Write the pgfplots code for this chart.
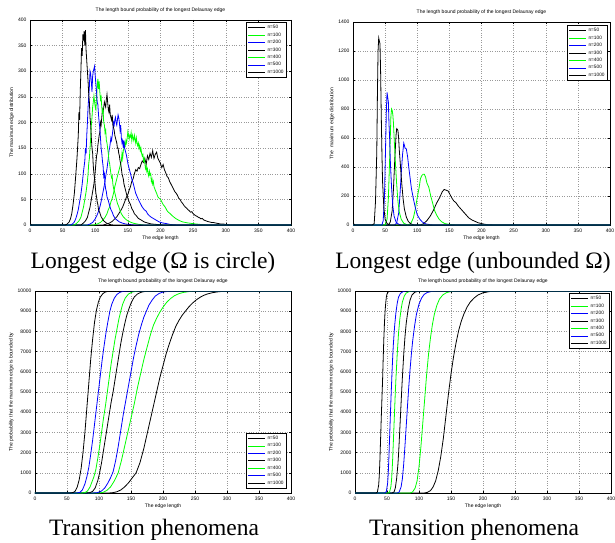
\documentclass[border=0pt]{standalone}
\usepackage{pgfplots}
\pgfplotsset{compat=1.18}
\usepackage{fontspec}
\setmainfont{Liberation Sans}
\newfontfamily\capfont{Liberation Serif}
\pgfplotsset{
  bk/.style={black, line width=0.8pt, mark=none},
  gr/.style={green, line width=0.8pt, mark=none},
  bl/.style={blue, line width=0.8pt, mark=none},
  mat/.style={
    scale only axis, anchor=south west,
    xmin=0, xmax=400, xtick={0,50,...,400},
    scaled y ticks=false, scaled x ticks=false,
    tick align=inside, major tick length=2pt,
    grid=major, major grid style={dotted, gray!80, line width=0.45pt},
    axis line style={line width=0.5pt},
    every tick/.style={black, line width=0.4pt},
    tick label style={font=\fontsize{5}{6}\selectfont},
    /pgf/number format/assume math mode=true,
    /pgf/number format/1000 sep={},
    label style={font=\fontsize{5}{6}\selectfont},
    title style={font=\fontsize{5}{6}\selectfont, yshift=-2pt},
    title={The length bound probability of the longest Delaunay edge},
    xlabel={The edge length},
    xlabel style={yshift=3pt},
    ylabel style={yshift=-3pt},
    legend style={font=\fontsize{4.8}{5.5}\selectfont, draw=black, line width=1.1pt,
      inner sep=0.8pt, row sep=-1.4pt, legend cell align=left},
    legend image post style={line width=0.8pt},
  },
}
\begin{document}
\begin{tikzpicture}
\useasboundingbox (0,0) rectangle (615pt,542pt);
% ---------------- Plot 1 ----------------
\begin{axis}[mat, at={(30pt,317pt)}, width=261pt, height=205pt,
  ymin=0, ymax=400, ytick={0,50,...,400},
  ylabel={The maximum edge distribution},
  legend style={at={(1,1)}, anchor=north east, xshift=-4pt, yshift=-2pt}]
\addplot[bk] coordinates {(0,4)(2,0)(112,0)(118,2)(122,4)(126,7)(130,12)(133,16)(136,22)(139,28)(142,35)(145,45)(148,55)(150,60)(152,68)(154,75)(156,85)(158,90)(160,100)(162,108)(164,105)(166,112)(168,110)(170,118)(172,125)(174,122)(176,130)(178,118)(180,135)(182,128)(184,140)(186,132)(188,145)(190,130)(192,138)(194,142)(196,130)(198,125)(200,120)(202,112)(204,118)(206,108)(208,102)(210,95)(212,92)(214,85)(216,80)(218,75)(220,70)(222,65)(224,62)(226,58)(228,52)(230,50)(232,45)(234,42)(236,38)(238,35)(240,33)(242,30)(244,28)(246,25)(248,26)(250,22)(252,20)(254,18)(256,17)(258,15)(260,14)(262,12)(264,13)(266,10)(268,9)(270,8)(272,7)(275,6)(278,5)(281,5)(284,4)(288,3)(292,2)(296,2)(300,1)(306,0)(400,0)};
\addlegendentry{n=50}
\addplot[gr] coordinates {(0,0)(98,0)(103,2)(108,5)(112,10)(115,15)(118,22)(120,30)(122,35)(124,45)(126,52)(128,62)(130,75)(132,85)(134,95)(136,105)(138,115)(140,125)(141,140)(142,130)(143,145)(144,150)(145,160)(146,155)(147,165)(148,160)(149,170)(150,182)(151,175)(152,168)(153,175)(154,172)(155,180)(156,165)(157,175)(158,170)(159,165)(160,175)(161,168)(162,160)(163,170)(164,160)(165,155)(166,160)(167,150)(168,155)(169,145)(170,150)(171,140)(172,135)(173,138)(174,125)(175,130)(176,120)(177,110)(178,115)(179,105)(180,110)(181,100)(182,95)(183,105)(184,98)(185,100)(186,85)(187,90)(188,80)(189,85)(190,75)(192,68)(194,62)(196,55)(198,52)(200,50)(202,45)(204,40)(206,37)(208,33)(210,28)(212,25)(215,22)(218,18)(221,15)(224,12)(227,10)(230,8)(234,6)(238,5)(242,4)(248,3)(254,2)(262,1)(270,0)(400,0)};
\addlegendentry{n=100}
\addplot[bl] coordinates {(0,0)(88,0)(92,2)(96,5)(100,12)(103,20)(106,30)(108,40)(110,52)(112,65)(114,78)(116,95)(118,110)(119,120)(120,130)(121,145)(122,150)(123,160)(124,170)(125,165)(126,175)(127,185)(128,200)(129,195)(130,205)(131,210)(132,200)(133,195)(134,205)(135,215)(136,210)(137,200)(138,185)(139,195)(140,170)(141,160)(142,165)(143,150)(144,165)(145,150)(146,145)(147,140)(148,135)(150,120)(152,110)(154,100)(156,90)(158,82)(160,72)(162,62)(164,56)(166,50)(168,45)(170,40)(172,35)(175,30)(178,27)(180,22)(183,18)(186,15)(190,12)(194,9)(198,6)(203,4)(208,3)(215,1)(225,0)(400,0)};
\addlegendentry{n=200}
\addplot[bk] coordinates {(0,0)(78,0)(82,4)(85,8)(88,15)(90,25)(92,35)(94,50)(96,65)(98,80)(100,105)(101,120)(102,135)(103,140)(104,155)(105,165)(106,175)(107,180)(108,200)(109,195)(110,210)(111,225)(112,220)(113,230)(114,240)(115,235)(116,230)(117,245)(118,255)(119,240)(120,225)(121,220)(122,235)(123,215)(124,210)(125,205)(126,215)(127,195)(128,190)(129,185)(130,175)(131,170)(132,165)(133,160)(134,150)(135,150)(136,140)(137,135)(138,125)(139,120)(140,110)(141,100)(142,95)(143,90)(144,80)(145,75)(146,70)(148,60)(150,52)(152,45)(154,40)(156,32)(158,28)(160,22)(163,18)(166,13)(170,10)(175,6)(180,4)(186,2)(195,1)(205,0)(400,0)};
\addlegendentry{n=300}
\addplot[gr] coordinates {(0,0)(68,0)(72,4)(75,8)(78,15)(80,25)(82,35)(84,50)(86,65)(88,85)(89,100)(90,120)(91,130)(92,150)(93,170)(94,195)(95,210)(96,230)(97,240)(98,252)(99,240)(100,230)(101,225)(102,250)(103,270)(104,285)(105,265)(106,280)(107,260)(108,245)(109,250)(110,230)(111,220)(112,225)(113,200)(114,195)(115,180)(116,185)(117,165)(118,160)(119,150)(120,140)(121,125)(122,120)(123,110)(124,100)(125,92)(126,95)(127,80)(128,72)(130,63)(132,52)(134,42)(136,36)(138,28)(140,22)(143,16)(146,12)(150,8)(155,5)(160,3)(168,1)(175,0)(400,0)};
\addlegendentry{n=400}
\addplot[bl] coordinates {(0,0)(62,0)(65,2)(68,6)(70,12)(72,20)(74,30)(76,45)(78,60)(80,80)(82,105)(84,125)(85,150)(86,140)(87,175)(88,200)(89,230)(90,250)(91,270)(92,300)(93,295)(94,280)(95,260)(96,290)(97,300)(98,305)(99,310)(100,290)(101,275)(102,260)(103,240)(104,235)(105,215)(106,200)(107,190)(108,170)(109,150)(110,140)(111,125)(112,115)(113,95)(114,100)(115,80)(116,70)(117,65)(118,55)(120,48)(122,38)(124,30)(126,25)(128,18)(131,12)(134,9)(137,6)(141,4)(146,2)(152,1)(160,0)(400,0)};
\addlegendentry{n=500}
\addplot[bk] coordinates {(0,4)(2,0)(54,0)(57,2)(60,6)(62,12)(64,22)(66,40)(68,62)(70,95)(72,130)(74,175)(75,220)(76,205)(77,260)(78,300)(79,345)(80,330)(81,372)(82,360)(83,378)(84,350)(85,380)(86,340)(87,320)(88,300)(89,280)(90,255)(91,240)(92,210)(93,195)(94,170)(95,150)(96,140)(97,115)(98,100)(99,90)(100,75)(101,62)(102,55)(103,45)(104,40)(105,30)(107,24)(109,16)(111,12)(113,8)(115,6)(118,3)(122,1)(128,0)(400,0)};
\addlegendentry{n=1000}
\end{axis}
% ---------------- Plot 2 ----------------
\begin{axis}[mat, at={(353pt,317pt)}, width=257pt, height=203pt,
  ymin=0, ymax=1400, ytick={0,200,...,1400},
  ylabel={The\ \ maximum edge distribution},
  legend style={at={(1,1)}, anchor=north east, xshift=-2pt, yshift=-3pt}]
\addplot[bk] coordinates {(0,0)(105,0)(110,10)(115,30)(120,60)(125,100)(130,150)(135,190)(139,230)(142,245)(145,240)(148,235)(151,210)(154,185)(157,165)(160,155)(164,130)(168,110)(172,90)(176,70)(180,50)(185,35)(190,25)(195,15)(200,10)(205,5)(210,2)(220,0)(400,0)};
\addlegendentry{n=50}
\addplot[gr] coordinates {(0,0)(85,0)(90,10)(94,50)(97,110)(100,190)(103,260)(105,320)(107,340)(109,350)(111,350)(113,330)(115,290)(118,260)(121,200)(124,150)(127,100)(130,70)(134,40)(138,22)(143,10)(150,4)(160,0)(400,0)};
\addlegendentry{n=100}
\addplot[bl] coordinates {(0,0)(65,0)(68,15)(71,80)(73,200)(75,350)(77,480)(79,565)(80,550)(81,530)(83,525)(85,470)(87,390)(89,320)(91,250)(94,180)(97,120)(100,70)(104,40)(108,20)(113,8)(120,2)(125,0)(400,0)};
\addlegendentry{n=200}
\addplot[bk] coordinates {(0,0)(55,0)(58,20)(61,100)(63,250)(65,450)(67,620)(68,665)(69,660)(70,650)(71,600)(72,520)(74,400)(76,280)(78,180)(80,110)(83,55)(86,25)(90,8)(95,0)(400,0)};
\addlegendentry{n=300}
\addplot[gr] coordinates {(0,0)(50,0)(53,40)(55,180)(57,450)(58,600)(59,750)(60,800)(61,790)(62,760)(63,700)(64,600)(66,430)(68,280)(70,160)(72,90)(75,40)(79,12)(85,0)(400,0)};
\addlegendentry{n=400}
\addplot[bl] coordinates {(0,0)(45,0)(47,30)(49,200)(51,600)(52,800)(53,915)(54,880)(55,850)(56,700)(57,600)(58,450)(60,260)(62,130)(64,60)(67,20)(71,5)(75,0)(400,0)};
\addlegendentry{n=500}
\addplot[bk] coordinates {(0,20)(2,0)(30,0)(33,10)(35,160)(37,500)(38,900)(39,1200)(40,1290)(41,1270)(42,1250)(43,1050)(44,750)(45,500)(46,300)(48,120)(50,40)(53,10)(57,0)(400,0)};
\addlegendentry{n=1000}
\end{axis}
% ---------------- Plot 3 ----------------
\begin{axis}[mat, at={(35pt,49pt)}, width=256pt, height=202pt,
  ymin=0, ymax=10000, ytick={0,1000,...,10000},
  ylabel={The probability that the maximum edge is bounded by},
  legend style={at={(1,0)}, anchor=south east, xshift=-4pt, yshift=4pt}]
\addplot[bk] coordinates {(0,0)(115,0)(122,20)(128,60)(134,150)(140,300)(146,500)(152,750)(158,1000)(164,1500)(170,2200)(175,2900)(180,3600)(185,4300)(190,5000)(195,5700)(200,6300)(205,6900)(210,7400)(215,7850)(220,8250)(225,8550)(230,8800)(235,9000)(240,9200)(246,9400)(252,9560)(258,9690)(264,9790)(270,9860)(278,9920)(286,9960)(295,9985)(305,10000)(400,10000)};
\addlegendentry{n=50}
\addplot[gr] coordinates {(0,0)(100,0)(106,30)(112,120)(118,300)(124,600)(130,1000)(135,1600)(140,2300)(145,3000)(150,3700)(155,4400)(160,5200)(165,5900)(170,6600)(175,7200)(180,7800)(185,8300)(190,8650)(195,8950)(200,9200)(206,9450)(212,9630)(218,9770)(225,9870)(232,9930)(240,9970)(248,9990)(258,10000)(400,10000)};
\addlegendentry{n=100}
\addplot[bl] coordinates {(0,0)(90,0)(98,20)(104,100)(109,250)(114,500)(118,750)(122,1050)(126,1600)(130,2300)(134,3100)(138,3900)(142,4600)(146,5300)(150,6000)(154,6700)(158,7300)(162,7850)(166,8300)(170,8700)(174,9000)(178,9300)(183,9550)(188,9750)(194,9880)(200,9950)(210,9990)(220,10000)(400,10000)};
\addlegendentry{n=200}
\addplot[bk] coordinates {(0,0)(80,0)(86,20)(90,80)(94,250)(98,600)(101,1000)(104,1500)(107,2100)(110,2700)(113,3300)(116,3900)(119,4500)(122,5000)(125,5600)(128,6200)(131,6800)(134,7400)(137,7900)(140,8350)(143,8750)(146,9050)(150,9400)(155,9700)(160,9850)(166,9940)(173,9985)(180,10000)(400,10000)};
\addlegendentry{n=300}
\addplot[gr] coordinates {(0,0)(72,0)(78,20)(82,100)(86,300)(89,550)(92,800)(95,1150)(98,1700)(101,2300)(104,3000)(107,3700)(110,4300)(113,5000)(116,5700)(119,6400)(122,7000)(125,7600)(128,8100)(131,8600)(134,9000)(137,9350)(141,9650)(146,9850)(152,9950)(160,9995)(165,10000)(400,10000)};
\addlegendentry{n=400}
\addplot[bl] coordinates {(0,0)(65,0)(70,30)(74,150)(78,450)(81,800)(84,1250)(87,1900)(90,2600)(93,3400)(96,4200)(99,5000)(102,5800)(105,6600)(108,7300)(111,7950)(114,8500)(117,9000)(120,9350)(124,9650)(128,9830)(133,9940)(138,9985)(145,10000)(400,10000)};
\addlegendentry{n=500}
\addplot[bk] coordinates {(0,0)(55,0)(60,30)(63,100)(66,300)(69,650)(72,1200)(75,2000)(78,3000)(81,4200)(84,5400)(87,6600)(90,7600)(93,8450)(96,9050)(99,9450)(102,9700)(106,9870)(110,9950)(115,9990)(120,10000)(400,10000)};
\addlegendentry{n=1000}
\end{axis}
% ---------------- Plot 4 ----------------
\begin{axis}[mat, at={(355pt,49pt)}, width=256pt, height=202pt,
  ymin=0, ymax=10000, ytick={0,1000,...,10000},
  ylabel={The probability that the maximum edge is bounded by},
  legend style={at={(1,1)}, anchor=north east, xshift=-1pt, yshift=-2pt}]
\addplot[bk] coordinates {(0,0)(108,0)(113,30)(118,120)(122,300)(126,600)(130,1100)(134,1800)(138,2700)(142,3800)(146,4900)(150,5900)(154,6750)(158,7450)(162,8050)(166,8500)(170,8850)(175,9200)(180,9450)(186,9650)(192,9800)(200,9910)(210,9970)(220,9995)(230,10000)(400,10000)};
\addlegendentry{n=50}
\addplot[gr] coordinates {(0,0)(86,0)(90,50)(94,250)(97,600)(100,1300)(103,2300)(106,3500)(109,4700)(112,5900)(115,6900)(118,7700)(121,8350)(124,8850)(128,9300)(132,9600)(137,9800)(143,9920)(150,9975)(158,10000)(400,10000)};
\addlegendentry{n=100}
\addplot[bl] coordinates {(0,0)(66,0)(69,50)(72,300)(74,700)(76,1400)(78,2300)(80,3300)(82,4300)(84,5250)(86,6100)(88,6850)(90,7500)(93,8250)(96,8850)(100,9350)(104,9650)(108,9830)(113,9930)(120,9980)(128,10000)(400,10000)};
\addlegendentry{n=200}
\addplot[bk] coordinates {(0,0)(58,0)(61,50)(63,250)(65,700)(67,1400)(68,1900)(69,2500)(70,3150)(71,3800)(72,4450)(73,5100)(74,5700)(76,6800)(78,7700)(80,8400)(83,9100)(86,9550)(89,9800)(93,9930)(98,9990)(105,10000)(400,10000)};
\addlegendentry{n=300}
\addplot[gr] coordinates {(0,0)(52,0)(54,50)(56,300)(57,600)(58,1100)(59,1800)(60,2600)(61,3400)(62,4200)(63,5000)(64,5700)(66,6900)(68,7900)(70,8600)(72,9100)(74,9450)(77,9750)(80,9900)(85,9980)(90,10000)(400,10000)};
\addlegendentry{n=400}
\addplot[bl] coordinates {(0,0)(47,0)(49,80)(51,500)(52,1000)(53,1800)(54,2700)(55,3600)(56,4500)(57,5300)(58,6100)(59,6800)(60,7400)(62,8300)(64,8950)(66,9400)(68,9700)(71,9880)(75,9970)(80,10000)(400,10000)};
\addlegendentry{n=500}
\addplot[bk] coordinates {(0,0)(33,0)(35,50)(37,400)(38,900)(39,1700)(40,2700)(41,3700)(42,4600)(43,5500)(44,6600)(45,7600)(46,8400)(47,9000)(48,9400)(49,9700)(50,9850)(52,9960)(55,10000)(400,10000)};
\addlegendentry{n=1000}
\end{axis}
% ---------------- Captions ----------------
\node[anchor=base, font=\capfont\fontsize{23.5}{26}\selectfont, inner sep=0pt] at (153pt,274pt) {Longest edge (Ω is circle)};
\node[anchor=base, font=\capfont\fontsize{23.5}{26}\selectfont, inner sep=0pt] at (473pt,274pt) {Longest edge (unbounded Ω)};
\node[anchor=base, font=\capfont\fontsize{23.5}{26}\selectfont, inner sep=0pt] at (154pt,7pt) {Transition phenomena};
\node[anchor=base, font=\capfont\fontsize{23.5}{26}\selectfont, inner sep=0pt] at (474pt,7pt) {Transition phenomena};
\end{tikzpicture}
\end{document}
